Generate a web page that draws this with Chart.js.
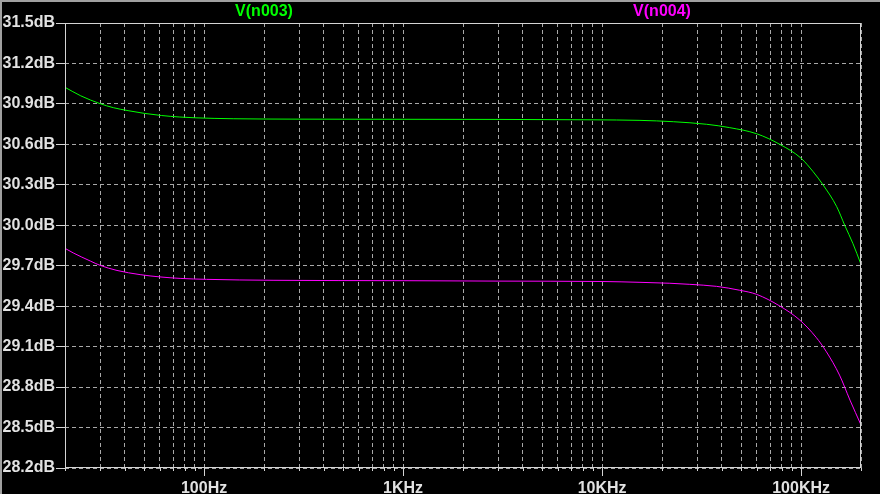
<!DOCTYPE html>
<html>
<head>
<meta charset="utf-8">
<script src="https://cdn.jsdelivr.net/npm/chart.js@4/dist/chart.umd.min.js"></script>
<style>
  html, body { margin: 0; padding: 0; background: #000; }
  #wrap { width: 880px; height: 494px; position: relative; }
</style>
</head>
<body>
<div id="wrap"><canvas id="c" width="880" height="494"></canvas></div>
<script>
// ---- data ----
const seriesNames = ['V(n003)', 'V(n004)'];

const freqN003 = [20, 24, 30, 35, 41.5, 50, 61, 75, 90, 140, 300, 1000, 3000, 9000,
  15500, 22800, 33500, 43800, 59700, 78200, 100000, 115000, 129000, 151000, 166000, 182000, 200000];
const dbN003 = [31.023, 30.960, 30.902, 30.872, 30.850, 30.830, 30.814, 30.803, 30.797, 30.790, 30.787, 30.786, 30.785, 30.782,
  30.778, 30.768, 30.749, 30.724, 30.679, 30.600, 30.497, 30.397, 30.299, 30.138, 29.997, 29.866, 29.710];

const freqN004 = [20, 22, 26.8, 30, 36.5, 47.7, 60, 75.8, 103, 222, 1000, 3000, 10000,
  15500, 21900, 27600, 37600, 49200, 59700, 78200, 98500, 119000, 134000, 156000, 176000, 200000];
const dbN004 = [29.829, 29.795, 29.735, 29.703, 29.665, 29.634, 29.617, 29.606, 29.599, 29.592, 29.589, 29.586, 29.583,
  29.577, 29.570, 29.562, 29.547, 29.518, 29.488, 29.401, 29.297, 29.169, 29.062, 28.889, 28.704, 28.519];

const yTickValues = [28.2, 28.5, 28.8, 29.1, 29.4, 29.7, 30.0, 30.3, 30.6, 30.9, 31.2, 31.5];
const xGridValues = [20, 30, 40, 50, 60, 70, 80, 90,
  100, 200, 300, 400, 500, 600, 700, 800, 900,
  1000, 2000, 3000, 4000, 5000, 6000, 7000, 8000, 9000,
  10000, 20000, 30000, 40000, 50000, 60000, 70000, 80000, 90000,
  100000, 200000];
const xLabelValues = [100, 1000, 10000, 100000];
const xLabelTexts = ['100Hz', '1KHz', '10KHz', '100KHz'];

// ---- styling ----
const GREEN = '#00ff00', MAGENTA = '#ff00ff';
const GRID = '#a8a8a8', FRAME = '#d4d4d4', LABEL = '#e2e2e2';

const toPoints = (xs, ys) => xs.map((x, i) => ({ x: x, y: ys[i] }));

const bgPlugin = {
  id: 'bg',
  beforeDraw(chart) {
    const ctx = chart.ctx;
    ctx.save();
    ctx.fillStyle = '#000';
    ctx.fillRect(0, 0, chart.width, chart.height);
    ctx.restore();
  },
  afterDraw(chart) {
    const ctx = chart.ctx;
    const a = chart.chartArea;
    const xs = chart.scales.x;
    ctx.save();
    // window edge
    ctx.fillStyle = '#a0a0a0';
    ctx.fillRect(0, 0, chart.width, 2);
    ctx.fillRect(0, 0, 2, chart.height);
    // frame
    ctx.strokeStyle = FRAME;
    ctx.lineWidth = 1;
    ctx.strokeRect(Math.round(a.left) + 0.5, Math.round(a.top) + 0.5,
      Math.round(a.right - a.left) - 1, Math.round(a.bottom - a.top) - 1);
    // x tick marks
    ctx.beginPath();
    xGridValues.forEach(v => {
      const px = Math.round(xs.getPixelForValue(v)) + 0.5;
      const len = xLabelValues.includes(v) ? 8 : 3;
      ctx.moveTo(px, a.bottom);
      ctx.lineTo(px, a.bottom + len);
    });
    ctx.stroke();
    // series titles
    ctx.font = 'bold 16px "Liberation Sans", Arial, sans-serif';
    ctx.textAlign = 'center';
    ctx.textBaseline = 'middle';
    ctx.fillStyle = GREEN;
    ctx.fillText(seriesNames[0], 264, 12);
    ctx.fillStyle = MAGENTA;
    ctx.fillText(seriesNames[1], 662, 12);
    ctx.restore();
  }
};

new Chart(document.getElementById('c'), {
  type: 'line',
  data: {
    datasets: [
      { label: seriesNames[0], data: toPoints(freqN003, dbN003), borderColor: GREEN, borderWidth: 1,
        pointRadius: 0, cubicInterpolationMode: 'monotone', fill: false },
      { label: seriesNames[1], data: toPoints(freqN004, dbN004), borderColor: MAGENTA, borderWidth: 1,
        pointRadius: 0, cubicInterpolationMode: 'monotone', fill: false }
    ]
  },
  options: {
    responsive: false,
    animation: false,
    devicePixelRatio: 1,
    layout: { padding: { top: 23, right: 19, left: 0, bottom: 0 } },
    plugins: { legend: { display: false }, tooltip: { enabled: false }, title: { display: false } },
    scales: {
      x: {
        type: 'logarithmic',
        min: 20, max: 200000,
        afterBuildTicks(scale) { scale.ticks = xGridValues.map(v => ({ value: v })); },
        afterFit(scale) { scale.height = 26; },
        grid: { color: GRID, lineWidth: 1, drawTicks: false },
        border: { display: false, dash: [4, 3] },
        ticks: {
          autoSkip: false, maxRotation: 0, padding: 11,
          color: LABEL, font: { family: '"Liberation Sans", Arial, sans-serif', size: 16, weight: 'bold' },
          callback(v) { const i = xLabelValues.indexOf(v); return i >= 0 ? xLabelTexts[i] : ''; }
        }
      },
      y: {
        type: 'linear',
        min: 28.2, max: 31.5,
        afterBuildTicks(scale) { scale.ticks = yTickValues.map(v => ({ value: v })); },
        afterFit(scale) { scale.width = 65; },
        grid: { color: GRID, lineWidth: 1, drawTicks: true, tickLength: 9, tickColor: FRAME, tickBorderDash: [] },
        border: { display: false, dash: [4, 3] },
        ticks: {
          autoSkip: false, padding: 1,
          color: LABEL, font: { family: '"Liberation Sans", Arial, sans-serif', size: 16, weight: 'bold' },
          callback(v) { return Number(v).toFixed(1) + 'dB'; }
        }
      }
    }
  },
  plugins: [bgPlugin]
});
</script>
</body>
</html>
